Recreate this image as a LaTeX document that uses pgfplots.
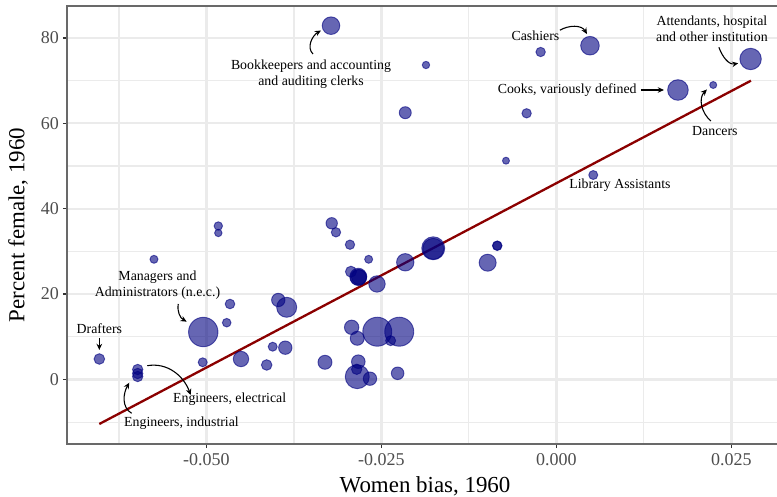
\documentclass[border=0pt]{standalone}
\usepackage{pgfplots}
\pgfplotsset{compat=1.18}
\usepackage{pgfplotstable}
\usepackage{fontspec}
\setmainfont{Liberation Serif}
\usetikzlibrary{arrows.meta}
\definecolor{navyc}{RGB}{0,0,128}
\definecolor{dred}{RGB}{139,0,0}
\definecolor{grid92}{RGB}{235,235,235}
\definecolor{g20}{RGB}{51,51,51}
\definecolor{g30}{RGB}{77,77,77}
\definecolor{frame}{RGB}{105,105,105}

\pgfplotstableread{
x y r
-0.03221 82.86 8.8
-0.01864 73.65 3.7
-0.02160 62.48 6.0
-0.00226 76.70 4.7
-0.00426 62.34 4.7
-0.00721 51.24 3.5
0.00479 78.17 9.3
0.02774 75.06 10.7
0.01736 67.80 10.3
0.02240 68.97 3.5
0.00526 47.89 4.5
-0.04831 35.95 4.2
-0.04831 34.31 3.7
-0.05750 28.15 4.0
-0.05046 11.12 14.7
-0.04664 17.68 4.8
-0.04711 13.30 4.3
-0.03974 18.62 6.7
-0.03854 16.91 10.0
-0.06531 4.80 5.3
-0.05983 2.34 5.2
-0.05983 1.41 5.2
-0.05983 0.70 5.2
-0.05054 4.03 4.5
-0.04507 4.80 7.7
-0.04054 7.68 4.5
-0.03874 7.45 6.7
-0.04140 3.40 5.3
-0.03307 4.03 7.0
-0.03211 36.58 5.7
-0.03150 34.47 4.7
-0.02950 31.57 4.7
-0.02683 28.15 4.0
-0.02936 25.25 5.5
-0.02831 24.07 8.5
-0.02831 23.89 8.0
-0.02820 24.00 7.5
-0.02564 22.37 8.2
-0.02160 27.45 8.7
-0.01760 30.73 11.5
-0.01760 30.60 10.5
-0.00846 31.33 4.8
-0.00846 31.33 4.5
-0.00983 27.35 8.5
-0.02926 12.22 7.2
-0.02846 9.65 7.0
-0.02560 11.19 14.5
-0.02246 11.19 14.5
-0.02369 9.09 5.0
-0.02831 4.17 6.8
-0.02854 2.39 5.2
-0.02846 0.66 12.0
-0.02664 0.19 6.7
-0.02269 1.45 6.3
}\bubbles

\begin{document}
\begin{tikzpicture}[annot/.style={-{Stealth[length=4pt,width=3.6pt]}, line width=0.7pt, black},
  lbl/.style={font=\fontsize{9}{10.4}\selectfont, align=center, inner sep=0pt, text=black}]
\useasboundingbox (-43.55pt,-33.8pt) rectangle (461.5pt,288.6pt);
\begin{axis}[
  at={(0,0)}, anchor=south west,
  scale only axis, width=465.5pt, height=284.7pt,
  xmin=-0.069929, xmax=0.03239, ymin=-15.11, ymax=87.47,
  xtick={-0.05,-0.025,0,0.025},
  xticklabels={-0.050,-0.025,0.000,0.025},
  ytick={0,20,40,60,80},
  yticklabels={0,20,40,60,80},
  minor xtick={-0.0625,-0.0375,-0.0125,0.0125},
  minor ytick={-10,10,30,50,70},
  grid=both,
  major grid style={draw=grid92, line width=1.4pt},
  minor grid style={draw=grid92, line width=0.7pt},
  minor tick length=0pt,
  major tick length=2.7pt,
  tick align=outside,
  xtick pos=bottom, ytick pos=left,
  tick style={draw=g20, line width=1pt},
  axis line style={draw=frame, line width=1.1pt},
  scaled x ticks=false,
  ticklabel style={font=\fontsize{11.7}{12}\selectfont, text=g30},
  yticklabel style={xshift=1pt},
  every axis x label/.style={at={(rel axis cs:0.5,0)}, anchor=base, yshift=-31.2pt, font=\fontsize{14.9}{16}\selectfont},
  every axis y label/.style={at={(rel axis cs:0,0.5)}, anchor=center, xshift=-31.85pt, rotate=90, font=\fontsize{14.9}{16}\selectfont},
  xlabel={Women bias, 1960},
  ylabel={Percent female, 1960},
  clip=false,
]
\addplot[scatter, only marks, mark=*,
  scatter/use mapped color={draw=navyc, fill=navyc},
  mark options={fill opacity=0.6, draw opacity=0.6, line width=0.6pt},
  visualization depends on={0.65*\thisrow{r} \as \rad},
  scatter/@pre marker code/.append style={/tikz/mark size=\rad}]
  table[x=x, y=y] {\bubbles};
\addplot[dred, line width=1.5pt, no marks] coordinates {(-0.06531,-10.42) (0.02779,69.98)};

% annotations
\node[lbl] at (axis cs:-0.03507,71.55) {Bookkeepers and accounting\\and auditing clerks};
\draw[annot] (axis cs:-0.03479,76.23) to[out=135, in=210] (axis cs:-0.03364,81.73);

\node[lbl] at (axis cs:-0.0030,80.44) {Cashiers};
\draw[annot] (axis cs:0.0005,81.8) to[out=30, in=120] (axis cs:0.00436,80.9);

\node[lbl] at (axis cs:0.02221,82.25) {Attendants, hospital\\and other institution};
\draw[annot] (axis cs:0.02321,77.8) to[out=-70, in=190] (axis cs:0.02597,74.05);

\node[lbl, anchor=east] at (axis cs:0.0115,67.8) {Cooks, variously defined};
\draw[annot] (axis cs:0.01207,67.8) -- (axis cs:0.01536,67.8);

\node[lbl] at (axis cs:0.02264,58.08) {Dancers};
\draw[annot] (axis cs:0.02207,60.54) to[out=140, in=225] (axis cs:0.02150,67.92);

\node[lbl] at (axis cs:0.00907,45.55) {Library Assistants};

\node[lbl] at (axis cs:-0.05700,22.2) {Managers and\\Administrators (n.e.c.)};
\draw[annot] (axis cs:-0.05403,17.68) to[out=-100, in=150] (axis cs:-0.05283,13.54);

\node[lbl] at (axis cs:-0.06531,11.99) {Drafters};
\draw[annot] (axis cs:-0.06531,9.72) -- (axis cs:-0.06531,6.91);

\node[lbl] at (axis cs:-0.04669,-4.64) {Engineers, electrical};
\draw[annot] (axis cs:-0.05846,3.23) to[out=10, in=110] (axis cs:-0.05226,-3.63);

\node[lbl] at (axis cs:-0.05357,-10.12) {Engineers, industrial};
\draw[annot] (axis cs:-0.06069,-7.92) to[out=150, in=240] (axis cs:-0.06103,-0.75);
\end{axis}
\end{tikzpicture}
\end{document}
